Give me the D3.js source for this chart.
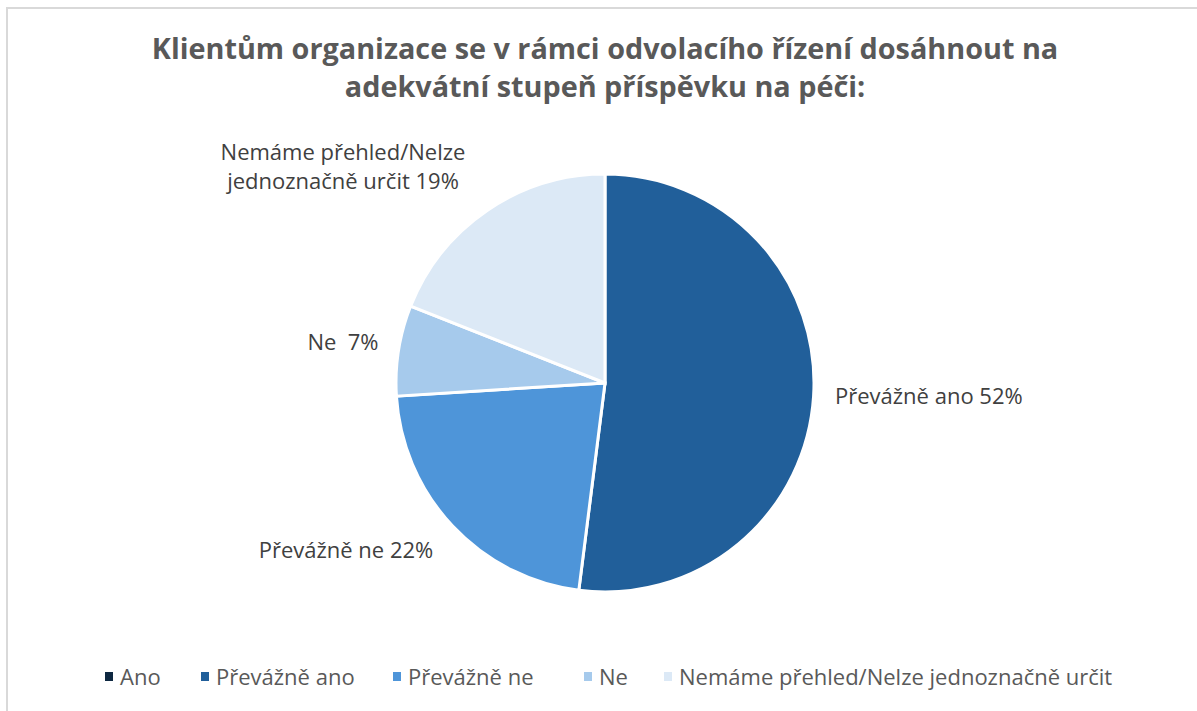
<!DOCTYPE html>
<html>
<head>
<meta charset="utf-8">
<script src="https://cdn.jsdelivr.net/npm/d3@7"></script>
<style>
  body { margin: 0; background: #fff; }
  svg { display: block; font-family: "Open Sans", "Liberation Sans", Arial, sans-serif; }
</style>
</head>
<body>
<script>
// data
var categories = ["Ano", "Převážně ano", "Převážně ne", "Ne", "Nemáme přehled/Nelze jednoznačně určit"];
var values = [0, 52, 22, 7, 19];
var colors = ["#0e2841", "#215f9a", "#4e95d9", "#a6caec", "#dce9f6"];
var labelLines = [[], ["Převážně ano 52%"], ["Převážně ne 22%"], ["Ne  7%"], ["Nemáme přehled/Nelze", "jednoznačně určit 19%"]];
var title = ["Klientům organizace se v rámci odvolacího řízení dosáhnout na", "adekvátní stupeň příspěvku na péči:"];

var W = 1197, H = 711;
var cx = 605, cy = 383, r = 209;

var svg = d3.select("body").append("svg")
    .attr("width", W)
    .attr("height", H);

// frame
svg.append("rect")
    .attr("x", 7).attr("y", 8)
    .attr("width", W + 10).attr("height", H + 10)
    .attr("fill", "none")
    .attr("stroke", "#d9d9d9")
    .attr("stroke-width", 2);

// title
svg.append("g").selectAll("text")
    .data(title)
  .enter().append("text")
    .attr("x", cx)
    .attr("y", function(d, i) { return 59 + i * 38; })
    .attr("text-anchor", "middle")
    .attr("font-size", "28.8px")
    .attr("font-weight", "bold")
    .attr("fill", "#595959")
    .text(function(d) { return d; });

var data = categories.map(function(c, i) {
  return {name: c, value: values[i], color: colors[i], lines: labelLines[i]};
});

var pie = d3.pie().sort(null).value(function(d) { return d.value; });
var arc = d3.arc().innerRadius(0).outerRadius(r);

var g = svg.append("g").attr("transform", "translate(" + cx + "," + cy + ")");

g.selectAll("path")
    .data(pie(data).filter(function(d) { return d.data.value > 0; }))
  .enter().append("path")
    .attr("d", arc)
    .attr("fill", function(d) { return d.data.color; })
    .attr("stroke", "#fff")
    .attr("stroke-width", 3);

// data labels (outside end), positions nudged to match the original
var labelPos = {
  "Převážně ano": {x: 835, y: 404, anchor: "start"},
  "Převážně ne": {x: 346, y: 558, anchor: "middle"},
  "Ne": {x: 343, y: 350, anchor: "middle"},
  "Nemáme přehled/Nelze jednoznačně určit": {x: 343, y: 160, anchor: "middle"}
};

data.forEach(function(d) {
  if (!d.value) return;
  var p = labelPos[d.name];
  svg.append("text")
      .attr("x", p.x)
      .attr("y", p.y)
      .attr("text-anchor", p.anchor)
      .attr("font-size", "22px")
      .attr("fill", "#404040")
      .selectAll("tspan")
      .data(d.lines)
    .enter().append("tspan")
      .attr("x", p.x)
      .attr("dy", function(t, i) { return i ? 29 : 0; })
      .style("white-space", "pre")
      .text(function(t) { return t; });
});

// legend
var legendX = [105, 201, 393, 584, 664];
var legend = svg.append("g").selectAll("g")
    .data(data)
  .enter().append("g")
    .attr("transform", function(d, i) { return "translate(" + legendX[i] + ",677)"; });

legend.append("rect")
    .attr("x", 0).attr("y", -5)
    .attr("width", 8).attr("height", 9)
    .attr("fill", function(d) { return d.color; });

legend.append("text")
    .attr("x", 15)
    .attr("y", 8)
    .attr("font-size", "22px")
    .attr("fill", "#595959")
    .text(function(d) { return d.name; });
</script>
</body>
</html>
